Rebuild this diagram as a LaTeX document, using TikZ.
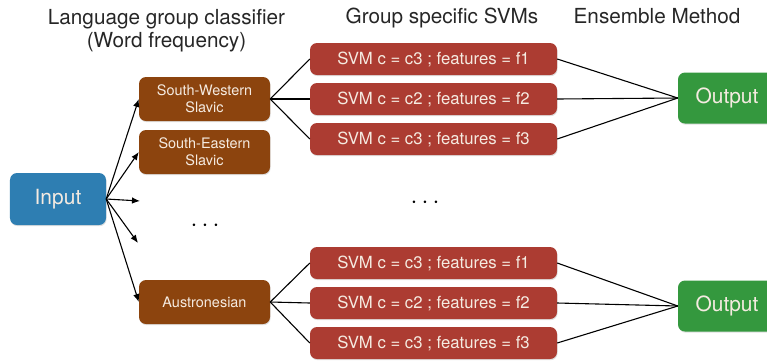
\documentclass[tikz,border=0pt]{standalone}
\usepackage{fontspec}
\setmainfont{TeX Gyre Heros}
\usetikzlibrary{shadows, arrows.meta}
\definecolor{inblue}{RGB}{46,126,178}
\definecolor{grpbrown}{RGB}{140,68,14}
\definecolor{svmred}{RGB}{172,60,50}
\definecolor{outgreen}{RGB}{52,152,62}
\definecolor{boxtext}{RGB}{245,235,225}
\begin{document}
\begin{tikzpicture}[
        x=1bp, y=-1bp,
        box/.style={rounded corners=7bp, inner sep=0pt, text=boxtext,
            drop shadow={opacity=0.25, shadow xshift=0.6bp, shadow yshift=-1.2bp}},
        inbox/.style={box, fill=inblue, minimum width=96bp, minimum height=52bp,
            font=\fontsize{21}{24}\selectfont},
        grp/.style={box, fill=grpbrown, minimum width=131bp, minimum height=44bp,
            align=center, font=\fontsize{14.5}{17}\selectfont},
        svm/.style={box, fill=svmred, minimum width=247bp, minimum height=32bp,
            font=\fontsize{16.8}{18}\selectfont},
        outbox/.style={box, fill=outgreen, minimum width=98bp, minimum height=51bp,
            font=\fontsize{21}{24}\selectfont},
        title/.style={anchor=base, inner sep=0pt, text=black!85, font=\fontsize{20.8}{24}\selectfont},
        dots/.style={font=\fontsize{24}{26}\selectfont},
        ar/.style={-{Latex[length=8bp, width=6.5bp]}, line width=1.1pt},
        ln/.style={line width=1.1pt},
    ]
    \useasboundingbox (0,0) rectangle (767,360);

    \node[title](tgroup) at (166.5,24) {Language group classifier};
    \node[title](tfreq) at (166.5,47.5) {(Word frequency)};
    \node[title](tsvm) at (442,23) {Group specific SVMs};
    \node[title](tens) at (657,23) {Ensemble Method};

    \node[inbox](in) at (58,199) {Input};

    \node[grp](sw) at (204.5,99) {South-Western\\Slavic};
    \node[grp](se) at (204.5,152) {South-Eastern\\Slavic};
    \node[grp](au) at (204.5,302) {Austronesian};
    \coordinate (g3) at (140,201);
    \coordinate (g4) at (138,243);
    \node[dots](gdots) at (205,226) {$\cdots$};

    \node[svm](s1) at (433.5,59) {SVM c = c3 ; features = f1};
    \node[svm](s2) at (433.5,99) {SVM c = c2 ; features = f2};
    \node[svm](s3) at (433.5,139) {SVM c = c3 ; features = f3};
    \node[dots](sdots) at (425,203) {$\cdots$};
    \node[svm](a1) at (433.5,263) {SVM c = c3 ; features = f1};
    \node[svm](a2) at (433.5,303) {SVM c = c2 ; features = f2};
    \node[svm](a3) at (433.5,343) {SVM c = c3 ; features = f3};

    \node[outbox](o1) at (727,98) {Output};
    \node[outbox](o2) at (727,306) {Output};

    \path[ar]
    (in.east) edge (sw.west) edge (se.west) edge (g3) edge (g4) edge (au.west)
    ;
    \path[ln]
    (sw.east) edge (s1.west) edge (s2.west) edge (s3.west)
    (au.east) edge (a1.west) edge (a2.west) edge (a3.west)
    (o1.west) edge (s1.east) edge (s2.east) edge (s3.east)
    (o2.west) edge (a1.east) edge (a2.east) edge (a3.east)
    ;
\end{tikzpicture}
\end{document}
